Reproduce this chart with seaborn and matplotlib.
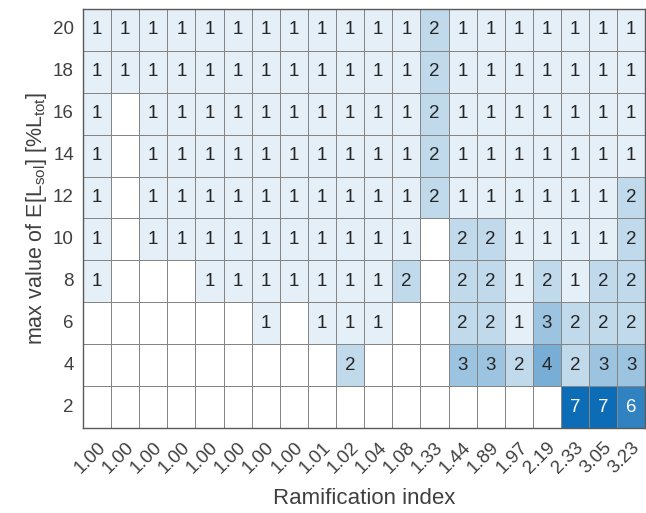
import numpy as np
import pandas as pd
import matplotlib
matplotlib.use("Agg")
import matplotlib.pyplot as plt
import matplotlib.transforms as mtransforms
import seaborn as sns
from matplotlib.colors import LinearSegmentedColormap

# ---- data ----
ramification = ["1.00", "1.00", "1.00", "1.00", "1.00", "1.00", "1.00", "1.00",
                "1.01", "1.02", "1.04", "1.08", "1.33", "1.44", "1.89", "1.97",
                "2.19", "2.33", "3.05", "3.23"]
max_values = ["20", "18", "16", "14", "12", "10", "8", "6", "4", "2"]

row_20 = [1, 1, 1, 1, 1, 1, 1, 1, 1, 1, 1, 1, 2, 1, 1, 1, 1, 1, 1, 1]
row_18 = [1, 1, 1, 1, 1, 1, 1, 1, 1, 1, 1, 1, 2, 1, 1, 1, 1, 1, 1, 1]
row_16 = [1, 0, 1, 1, 1, 1, 1, 1, 1, 1, 1, 1, 2, 1, 1, 1, 1, 1, 1, 1]
row_14 = [1, 0, 1, 1, 1, 1, 1, 1, 1, 1, 1, 1, 2, 1, 1, 1, 1, 1, 1, 1]
row_12 = [1, 0, 1, 1, 1, 1, 1, 1, 1, 1, 1, 1, 2, 1, 1, 1, 1, 1, 1, 2]
row_10 = [1, 0, 1, 1, 1, 1, 1, 1, 1, 1, 1, 1, 0, 2, 2, 1, 1, 1, 1, 2]
row_8 = [1, 0, 0, 0, 1, 1, 1, 1, 1, 1, 1, 2, 0, 2, 2, 1, 2, 1, 2, 2]
row_6 = [0, 0, 0, 0, 0, 0, 1, 0, 1, 1, 1, 0, 0, 2, 2, 1, 3, 2, 2, 2]
row_4 = [0, 0, 0, 0, 0, 0, 0, 0, 0, 2, 0, 0, 0, 3, 3, 2, 4, 2, 3, 3]
row_2 = [0, 0, 0, 0, 0, 0, 0, 0, 0, 0, 0, 0, 0, 0, 0, 0, 0, 7, 7, 6]

rows = [row_20, row_18, row_16, row_14, row_12, row_10, row_8, row_6, row_4, row_2]
data = np.array(rows, dtype=float)
labels = np.where(data > 0, data.astype(int).astype(str), "")

df = pd.DataFrame(data, index=max_values, columns=range(len(ramification)))

# ---- style ----
sns.set_theme(style="white")
plt.rcParams["font.family"] = ["Liberation Sans", "DejaVu Sans"]
plt.rcParams["mathtext.fontset"] = "custom"
plt.rcParams["mathtext.rm"] = "Liberation Sans"
plt.rcParams["mathtext.it"] = "Liberation Sans"

cmap = LinearSegmentedColormap.from_list("mblue", ["#e4eff7", "#0c6db6"])
cmap.set_under("white")

fig = plt.figure(figsize=(6.46, 5.13), dpi=100)
ax = fig.add_axes([0.1285, 0.1657, 0.8705, 0.8168])

sns.heatmap(df, ax=ax, cmap=cmap, vmin=1, vmax=7, cbar=False,
            annot=labels, fmt="", linewidths=0.6, linecolor="#858585",
            annot_kws={"fontsize": 13.5})

for t in ax.texts:
    txt = t.get_text()
    if txt == "":
        continue
    v = int(txt)
    t.set_color("white" if v >= 5 else "#262626")

for s in ax.spines.values():
    s.set_visible(True)
    s.set_color("#5a5a5a")
    s.set_linewidth(1.0)

ax.set_xticks(np.arange(len(ramification)) + 0.5)
ax.set_xticklabels(ramification, rotation=45, ha="right", va="top",
                   rotation_mode="anchor", fontsize=13.5, color="#404040")
offset = mtransforms.ScaledTranslation(7 / 100, -10 / 100, fig.dpi_scale_trans)
for lab in ax.get_xticklabels():
    lab.set_transform(lab.get_transform() + offset)
ax.set_yticks(np.arange(len(max_values)) + 0.5)
ax.set_yticklabels(max_values, rotation=0, fontsize=13.5, color="#404040")
ax.tick_params(axis="both", length=0)
ax.tick_params(axis="y", pad=6.5)
ax.tick_params(axis="x", pad=8)

ax.set_xlabel("Ramification index", fontsize=16, color="#404040", labelpad=8)
ax.set_ylabel(r"max value of E[L$_{\rm sol}$] [%L$_{\rm tot}$]", fontsize=15.5,
              color="#404040", labelpad=3)

fig.savefig("out.png", dpi=100)
